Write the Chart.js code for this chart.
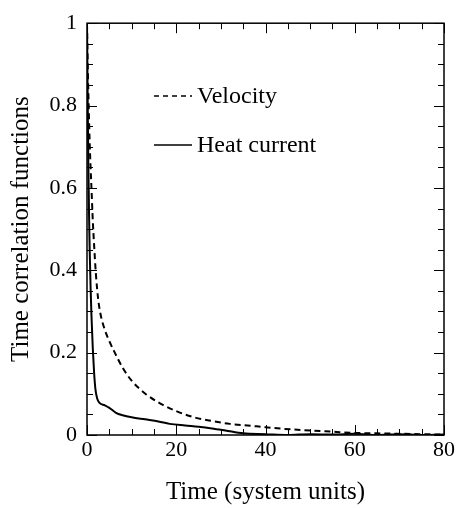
<!DOCTYPE html>
<html>
<head>
<meta charset="utf-8">
<script src="https://cdn.jsdelivr.net/npm/chart.js@4"></script>
<style>
html,body{margin:0;padding:0;background:#fff;}
#wrap{width:457px;height:508px;}
</style>
</head>
<body>
<div id="wrap"><canvas id="c" width="457" height="508"></canvas></div>
<script>
const velocityT = [0,0.2,0.4,0.6,0.8,1.0,1.3,1.6,2.0,2.5,3,4,5,6,8,10,13,17,20,24,28,32,38,44,50,55,60,65,70,75,80];
const velocityV = [1.0,0.88,0.79,0.71,0.65,0.6,0.52,0.46,0.39,0.33,0.295,0.255,0.228,0.205,0.163,0.132,0.101,0.073,0.058,0.043,0.034,0.027,0.021,0.015,0.011,0.008,0.005,0.004,0.003,0.002,0.001];
const heatT = [0,0.1,0.2,0.3,0.45,0.6,0.8,1.0,1.3,1.6,1.9,2.3,2.8,4,5,6.5,8,10,13,16,18.5,22,25,28,31,35,40,45,50,55,60,65,70,75,80];
const heatV = [1.0,0.88,0.76,0.66,0.54,0.45,0.36,0.29,0.21,0.15,0.11,0.088,0.078,0.072,0.066,0.054,0.048,0.043,0.038,0.033,0.027,0.023,0.02,0.016,0.011,0.004,0.002,0.0,0.002,0.001,0.003,0.0,0.002,0.0,0.001];
const xTicks = [0,20,40,60,80];
const yTicks = [0,0.2,0.4,0.6,0.8,1];
const seriesNames = ["Velocity","Heat current"];
const xTitle = "Time (system units)";
const yTitle = "Time correlation functions";

const FONT = "'Liberation Serif','DejaVu Serif',serif";

const framePlugin = {
  id: 'frame',
  afterDatasetsDraw(chart) {
    const {ctx, chartArea: a, scales: {x, y}} = chart;
    ctx.save();
    ctx.strokeStyle = '#000';
    ctx.lineWidth = 1.5;
    ctx.strokeRect(a.left, a.top, a.right - a.left, a.bottom - a.top);
    ctx.lineWidth = 1;
    ctx.beginPath();
    for (let v = 0; v <= 80.001; v += 5) {
      const px = Math.round(x.getPixelForValue(v)) + 0.5;
      const len = (Math.abs(v % 20) < 0.01) ? 10 : 6;
      ctx.moveTo(px, a.bottom); ctx.lineTo(px, a.bottom - len);
      ctx.moveTo(px, a.top); ctx.lineTo(px, a.top + len);
    }
    for (let i = 0; i <= 20; i++) {
      const v = i * 0.05;
      const py = Math.round(y.getPixelForValue(v)) + 0.5;
      const len = (i % 4 === 0) ? 10 : 6;
      ctx.moveTo(a.left, py); ctx.lineTo(a.left + len, py);
      ctx.moveTo(a.right, py); ctx.lineTo(a.right - len, py);
    }
    ctx.stroke();

    // legend inside plot
    const lx0 = 154, lx1 = 192, tx = 197;
    const rows = [{y: 96, dash: [5,4]}, {y: 145, dash: []}];
    ctx.font = "24px " + FONT;
    ctx.fillStyle = '#000';
    ctx.textBaseline = 'middle';
    rows.forEach((r, i) => {
      ctx.setLineDash(r.dash);
      ctx.lineWidth = 1.5;
      ctx.beginPath();
      ctx.moveTo(lx0, r.y); ctx.lineTo(lx1, r.y);
      ctx.stroke();
      ctx.setLineDash([]);
      ctx.fillText(seriesNames[i], tx, r.y + 1);
    });
    ctx.restore();
  }
};

const toPts = (t, v) => t.map((tt, i) => ({x: tt, y: v[i]}));

new Chart(document.getElementById('c'), {
  type: 'line',
  data: {
    datasets: [
      {label: seriesNames[0], data: toPts(velocityT, velocityV), borderColor: '#000', borderWidth: 2, borderDash: [6,4], pointRadius: 0, fill: false, cubicInterpolationMode: 'monotone'},
      {label: seriesNames[1], data: toPts(heatT, heatV), borderColor: '#000', borderWidth: 2, pointRadius: 0, fill: false, cubicInterpolationMode: 'monotone'}
    ]
  },
  options: {
    responsive: false,
    animation: false,
    devicePixelRatio: 1,
    layout: {padding: {top: 13, right: 11, left: 0, bottom: 0}},
    plugins: {legend: {display: false}, tooltip: {enabled: false}},
    scales: {
      x: {
        type: 'linear', min: 0, max: 80,
        afterBuildTicks: s => { s.ticks = xTicks.map(v => ({value: v})); },
        afterFit: s => { s.height = 73; },
        grid: {display: false, drawTicks: false},
        border: {display: false},
        ticks: {color: '#000', font: {family: FONT, size: 22}, padding: 2, maxRotation: 0, callback: v => String(v)},
        title: {display: true, text: xTitle, color: '#000', font: {family: FONT, size: 25}, padding: {top: 4, bottom: 1}}
      },
      y: {
        type: 'linear', min: 0, max: 1,
        afterBuildTicks: s => { s.ticks = yTicks.map(v => ({value: v})); },
        afterFit: s => { s.width = 87; },
        grid: {display: false, drawTicks: false},
        border: {display: false},
        ticks: {color: '#000', font: {family: FONT, size: 22}, padding: 10, callback: v => String(Number(v.toFixed(1)))},
        title: {display: true, text: yTitle, color: '#000', font: {family: FONT, size: 25}, padding: {top: 6, bottom: 0}}
      }
    }
  },
  plugins: [framePlugin]
});
</script>
</body>
</html>
